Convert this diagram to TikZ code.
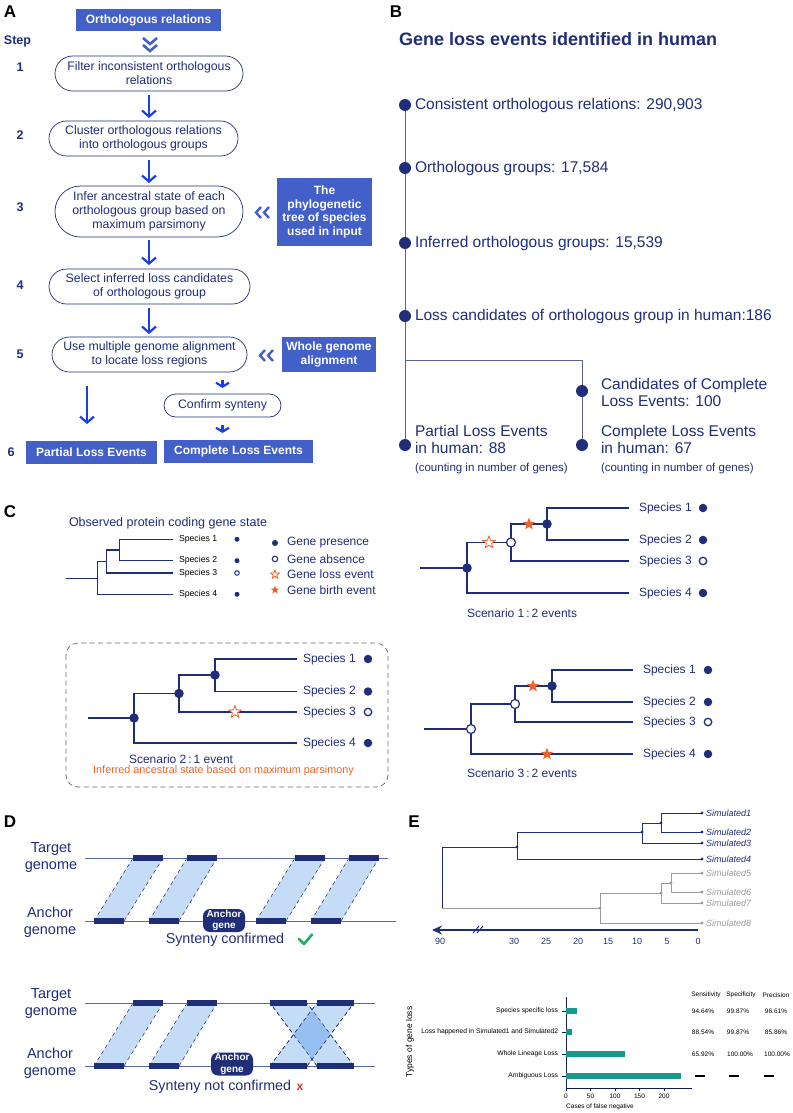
\documentclass[tikz,border=0pt]{standalone}
\usepackage{fontspec}
\setmainfont{Liberation Sans}
\usetikzlibrary{arrows.meta,shapes.geometric,shapes.misc}
\definecolor{navy}{RGB}{32,45,120}
\definecolor{boxblue}{RGB}{66,96,200}
\definecolor{arrowblue}{RGB}{28,62,226}
\definecolor{orangec}{RGB}{236,98,40}
\definecolor{tealc}{RGB}{22,152,140}
\definecolor{lightblu}{RGB}{196,220,246}
\definecolor{overblu}{RGB}{150,192,242}
\definecolor{grayc}{RGB}{155,155,155}
\definecolor{greenc}{RGB}{34,170,100}
\definecolor{redc}{RGB}{225,50,40}
\definecolor{lineblu}{RGB}{90,105,165}
\newcommand\fsz[2]{\fontsize{#1pt}{#2pt}\selectfont}
\newcommand\synpara[6]{%
  \fill[lightblu] (#1,#5) -- (#3,#6) -- (#4,#6) -- (#2,#5) -- cycle;
  \draw[syndash] (#1,#5) -- (#3,#6) (#2,#5) -- (#4,#6);}
\newcommand\gblock[3]{\fill[navy] (#1,#3-2.7) rectangle (#2,#3+2.7);}
\begin{document}
\begin{tikzpicture}[x=1pt,y=-1pt,
  every node/.style={inner sep=0pt, outer sep=0pt},
  plabel/.style={font=\fsz{17}{20}\bfseries, text=black},
  stepnum/.style={text=navy, font=\fsz{12.5}{15}\bfseries},
  bluebox/.style={fill=boxblue, text=white, font=\fsz{12}{13.5}\bfseries, align=center},
  pill/.style={rounded rectangle, draw=navy, line width=0.7pt, text=navy, align=center, font=\fsz{12.3}{14}},
  bigarrow/.style={draw=arrowblue, line width=2.2pt, -{Straight Barb[length=6pt,width=14pt]}},
  smallarrow/.style={draw=arrowblue, line width=2.2pt, -{Straight Barb[length=4pt,width=13pt]}},
  chev/.style={draw=boxblue, line width=2.6pt},
  btext/.style={anchor=west, text=navy, font=\fsz{15.5}{17.5}, align=left},
  bsmall/.style={anchor=west, text=navy, font=\fsz{11.5}{13}},
  bdot/.style={circle, fill=navy, minimum size=12pt},
  bline/.style={draw=navy!75, line width=0.9pt},
  tree/.style={draw=navy, line width=1.3pt},
  fnode/.style={circle, fill=navy, minimum size=9.5pt},
  onode/.style={circle, draw=navy, fill=white, line width=1.2pt, minimum size=9pt},
  ldot/.style={circle, fill=navy, minimum size=8.5pt},
  lodot/.style={circle, draw=navy, fill=white, line width=1.3pt, minimum size=7.5pt},
  sdot/.style={circle, fill=navy, minimum size=5pt},
  sodot/.style={circle, draw=navy, fill=white, line width=1pt, minimum size=4.5pt},
  fstar/.style={star, star points=5, star point ratio=2.4, fill=orangec, minimum size=13pt},
  ostar/.style={star, star points=5, star point ratio=2.4, draw=orangec, fill=white, line width=0.8pt, minimum size=13pt},
  splabel/.style={anchor=west, text=navy, font=\fsz{12}{14}},
  obslabel/.style={anchor=west, text=black, font=\fsz{8.7}{10}},
  ctext/.style={text=navy, font=\fsz{12}{14}},
  dlabel/.style={text=navy, font=\fsz{14.5}{17}, align=center},
  syndash/.style={draw=navy, line width=0.5pt, dash pattern=on 4pt off 3pt},
  gline/.style={draw=lineblu, line width=0.8pt},
  anchorpill/.style={rounded corners=7pt, fill=navy, text=white, font=\fsz{10}{11.5}\bfseries, align=center},
  etree/.style={draw=navy, line width=1pt},
  gtree/.style={draw=grayc, line width=1pt},
  edot/.style={circle, fill=navy, minimum size=3.2pt},
  gdot/.style={circle, fill=grayc, minimum size=3.2pt},
  simlab/.style={anchor=west, font=\fsz{9}{10}\itshape},
  ticklab/.style={text=navy, font=\fsz{9}{10}},
  chartlab/.style={anchor=east, text=black, font=\fsz{6.7}{8}},
  valtext/.style={text=black, font=\fsz{6.5}{8}},
  bar/.style={fill=tealc},
  axisl/.style={draw=navy!60!black, line width=0.6pt}
]
\useasboundingbox (0,0) rectangle (792,1113);

% ================= Panel A =================
\node[plabel] (labA) at (10,12) {A};
\node[bluebox, minimum width=145pt, minimum height=22pt] (orth) at (148.5,20) {Orthologous relations};
\draw[chev] (143,38) -- (150,44) -- (157,38) (143,45) -- (150,51) -- (157,45);
\node[stepnum] (stephd) at (17.5,41) {Step};
\node[stepnum] (s1) at (20,67) {1};
\node[stepnum] (s2) at (20,135) {2};
\node[stepnum] (s3) at (20,207) {3};
\node[stepnum] (s4) at (20,285) {4};
\node[stepnum] (s5) at (20,354) {5};
\node[stepnum] (s6) at (11,452) {6};

\node[pill, minimum width=188pt, minimum height=35pt] (box1) at (149,73.5) {Filter inconsistent orthologous\\relations};
\node[pill, minimum width=189pt, minimum height=35pt] (box2) at (143.5,138.5) {Cluster orthologous relations\\into orthologous groups};
\node[pill, minimum width=188pt, minimum height=51pt] (box3) at (149,211.5) {Infer ancestral state of each\\orthologous group based on\\maximum parsimony};
\node[pill, minimum width=201pt, minimum height=35pt] (box4) at (149.5,286.5) {Select inferred loss candidates\\of orthologous group};
\node[pill, minimum width=195pt, minimum height=35pt] (box5) at (149.5,354.5) {Use multiple genome alignment\\to locate loss regions};
\node[pill, minimum width=117pt, minimum height=23pt] (confirm) at (222.5,405.5) {Confirm synteny};

\node[bluebox, minimum width=95pt, minimum height=68pt] (side1) at (324.5,212) {The\\phylogenetic\\tree of species\\used in input};
\node[bluebox, minimum width=94pt, minimum height=35pt] (side2) at (329,354.5) {Whole genome\\alignment};
\node[bluebox, minimum width=131pt, minimum height=23pt] (partial) at (91.5,452.5) {Partial Loss Events};
\node[bluebox, minimum width=149pt, minimum height=23pt] (complete) at (238.5,451.5) {Complete Loss Events};

\draw[chev, line width=2.4pt] (261,207) -- (256,212.5) -- (261,218) (269,207) -- (264,212.5) -- (269,218);
\draw[chev, line width=2.4pt] (265,350) -- (260,355.5) -- (265,361) (273,350) -- (268,355.5) -- (273,361);

\draw[bigarrow, shorten <=4pt, shorten >=3pt] (box1.south) -- (box1.south |- box2.north);
\draw[bigarrow, shorten <=4pt, shorten >=3pt] (box3.north |- box2.south) -- (box3.north);
\draw[bigarrow, shorten <=3pt, shorten >=4pt] (box3.south) -- (box3.south |- box4.north);
\draw[bigarrow, shorten <=4pt, shorten >=3pt] (box4.south -| box3.south) -- (box3.south |- box5.north);
\draw[bigarrow, shorten <=14pt, shorten >=17pt] ([xshift=-4.5pt]partial.north |- box5.south) -- ([xshift=-4.5pt]partial.north);
\draw[smallarrow, shorten <=8pt, shorten >=6pt] (confirm.north |- box5.south) -- (confirm.north);
\draw[smallarrow, shorten <=8pt, shorten >=7pt] (confirm.south) -- (confirm.south |- complete.north);

% ================= Panel B =================
\node[plabel] (labB) at (396,12) {B};
\node[anchor=west, text=navy, font=\fsz{18}{20}\bfseries] (btitle) at (399,39) {Gene loss events identified in human};
\draw[bline] (405,105) -- (405,445);
\draw[bline] (405,360) -- (582,360) -- (582,445);
\node[bdot] (bd1) at (405,105) {};
\node[bdot] (bd2) at (405,168) {};
\node[bdot] (bd3) at (405,243) {};
\node[bdot] (bd4) at (405,316) {};
\node[bdot] (bd5) at (405,445) {};
\node[bdot] (bd6) at (582,391) {};
\node[bdot] (bd7) at (582,445) {};
\node[btext] (bt1) at (415,105) {Consistent orthologous relations: 290,903};
\node[btext] (bt2) at (415,168) {Orthologous groups: 17,584};
\node[btext] (bt3) at (415,243) {Inferred orthologous groups: 15,539};
\node[btext] (bt4) at (415,316) {Loss candidates of orthologous group in human:186};
\node[btext] (bt5) at (601,392.5) {Candidates of Complete\\Loss Events: 100};
\node[btext] (bt6) at (415,439.5) {Partial Loss Events\\in human: 88};
\node[btext] (bt7) at (601,439.5) {Complete Loss Events\\in human: 67};
\node[bsmall] (bt8) at (415,469) {(counting in number of genes)};
\node[bsmall] (bt9) at (601,469) {(counting in number of genes)};

% ================= Panel C =================
\node[plabel] (labC) at (10,512) {C};
\node[anchor=west, text=navy, font=\fsz{12.5}{14}] (obst) at (69,523) {Observed protein coding gene state};
\draw[tree, line width=1.2pt] (66,578.3) -- (97.3,578.3)
  (173,594.3) -| (97.3,561.3) -- (106.7,561.3)
  (173,573) -| (106.7,550) -- (119.3,550)
  (173,539.3) -| (119.3,560.7) -- (173,560.7);
\node[obslabel] (o1) at (179,539.3) {Species 1};
\node[obslabel] (o2) at (179,560.7) {Species 2};
\node[obslabel] (o3) at (179,573) {Species 3};
\node[obslabel] (o4) at (179,594.3) {Species 4};
\node[sdot] (od1) at (237,539.3) {};
\node[sdot] (od2) at (237,560.7) {};
\node[sodot] (od3) at (237,573) {};
\node[sdot] (od4) at (237,594.3) {};
\node[circle, fill=navy, minimum size=6pt] (lg1) at (275,543) {};
\node[circle, draw=navy, fill=white, line width=1.1pt, minimum size=5.5pt] (lg2) at (275,559) {};
\node[ostar, minimum size=9pt] (lg3) at (275,574.5) {};
\node[fstar, minimum size=9pt] (lg4) at (275,590) {};
\node[anchor=west, text=navy, font=\fsz{12}{14}] (lt1) at (287,543) {Gene presence};
\node[anchor=west, text=navy, font=\fsz{12}{14}] (lt2) at (287,559) {Gene absence};
\node[anchor=west, text=navy, font=\fsz{12}{14}] (lt3) at (287,574.5) {Gene loss event};
\node[anchor=west, text=navy, font=\fsz{12}{14}] (lt4) at (287,590) {Gene birth event};

% Scenario 1
\draw[tree] (420,568) -- (467,568)
  (629,593) -| (467,542.5) -- (511,542.5)
  (629,561) -| (511,524) -- (547,524)
  (629,508) -| (547,540) -- (629,540);
\node[fnode] (a1) at (547,524) {};
\node[onode] (a2) at (511,542.5) {};
\node[fnode] (a3) at (467,568) {};
\node[fstar] (a4) at (529,524) {};
\node[ostar] (a5) at (489,542.5) {};
\node[splabel] (a6) at (639,508) {Species 1};
\node[splabel] (a7) at (639,540) {Species 2};
\node[splabel] (a8) at (639,561) {Species 3};
\node[splabel] (a9) at (639,593) {Species 4};
\node[ldot] (a10) at (703,508) {};
\node[ldot] (a11) at (703,540) {};
\node[lodot] (a12) at (703,561) {};
\node[ldot] (a13) at (703,593) {};
\node[ctext, anchor=west] (a14) at (467,613) {Scenario 1\,:\,2 events};

% Scenario 2
\draw[draw=grayc!70!black, line width=0.8pt, dash pattern=on 5pt off 3.5pt, rounded corners=12pt] (66,643) rectangle (388,787);
\draw[tree] (88,718) -- (134,718)
  (297,743) -| (134,693.5) -- (179,693.5)
  (297,712) -| (179,675) -- (215,675)
  (297,659) -| (215,691.5) -- (297,691.5);
\node[fnode] (b1) at (215,675) {};
\node[fnode] (b2) at (179,693.5) {};
\node[fnode] (b3) at (134,718) {};
\node[ostar] (b4) at (235,712) {};
\node[splabel] (b6) at (303,659) {Species 1};
\node[splabel] (b7) at (303,691.5) {Species 2};
\node[splabel] (b8) at (303,712) {Species 3};
\node[splabel] (b9) at (303,743) {Species 4};
\node[ldot] (b10) at (368,659) {};
\node[ldot] (b11) at (368,691.5) {};
\node[lodot] (b12) at (368,712) {};
\node[ldot] (b13) at (368,743) {};
\node[ctext, anchor=west] (b14) at (129,759) {Scenario 2\,:\,1 event};
\node[text=orangec, font=\fsz{10.8}{12}] (b15) at (223.5,771) {Inferred ancestral state based on maximum parsimony};

% Scenario 3
\draw[tree] (424,729) -- (471,729)
  (633,754) -| (471,704) -- (515,704)
  (633,722) -| (515,686) -- (552,686)
  (633,670) -| (552,702) -- (633,702);
\node[fnode] (c1) at (552,686) {};
\node[onode] (c2) at (515,704) {};
\node[onode] (c3) at (471,729) {};
\node[fstar] (c4) at (533,686) {};
\node[fstar] (c5) at (547,754) {};
\node[splabel] (c6) at (643,670) {Species 1};
\node[splabel] (c7) at (643,702) {Species 2};
\node[splabel] (c8) at (643,722) {Species 3};
\node[splabel] (c9) at (643,754) {Species 4};
\node[ldot] (c10) at (708,670) {};
\node[ldot] (c11) at (708,702) {};
\node[lodot] (c12) at (708,722) {};
\node[ldot] (c13) at (708,754) {};
\node[ctext, anchor=west] (c14) at (467,773) {Scenario 3\,:\,2 events};

% ================= Panel D =================
\node[plabel] (labD) at (10,822) {D};
\node[dlabel] (dt1) at (51,857.5) {Target\\genome};
\node[dlabel] (da1) at (50,922.5) {Anchor\\genome};
\node[dlabel] (dt2) at (51,1003.5) {Target\\genome};
\node[dlabel] (da2) at (50,1063.5) {Anchor\\genome};
% top row
\synpara{94}{124}{133}{163}{921}{858}
\synpara{149}{179}{187}{217}{921}{858}
\synpara{256}{286}{295}{325}{921}{858}
\synpara{311}{341}{349}{379}{921}{858}
\draw[gline] (85,858) -- (388,858);
\draw[gline] (85,921) -- (396,921);
\gblock{133}{163}{858}\gblock{187}{217}{858}\gblock{295}{325}{858}\gblock{349}{379}{858}
\gblock{94}{124}{921}\gblock{149}{179}{921}\gblock{256}{286}{921}\gblock{311}{341}{921}
\node[anchorpill, minimum width=42pt, minimum height=23pt] (ag1) at (224,920.5) {Anchor\\gene};
\node[text=navy, font=\fsz{14.3}{16}] (syn1) at (225,940) {Synteny confirmed};
\draw[greenc, line width=2.6pt, line cap=round, line join=round] (299,939) -- (304,944) -- (312,934.5);
% bottom row
\synpara{94}{124}{133}{163}{1066}{1003}
\synpara{149}{179}{187}{217}{1066}{1003}
\synpara{317}{354}{270}{307}{1066}{1003}
\synpara{270}{307}{317}{354}{1066}{1003}
\begin{scope}
  \clip (270,1066) -- (317,1003) -- (354,1003) -- (307,1066) -- cycle;
  \fill[overblu] (317,1066) -- (270,1003) -- (307,1003) -- (354,1066) -- cycle;
\end{scope}
\draw[syndash] (270,1066) -- (317,1003) (307,1066) -- (354,1003) (317,1066) -- (270,1003) (354,1066) -- (307,1003);
\draw[gline] (85,1003) -- (375,1003);
\draw[gline] (85,1066) -- (375,1066);
\gblock{133}{163}{1003}\gblock{187}{217}{1003}\gblock{270}{307}{1003}\gblock{317}{354}{1003}
\gblock{94}{124}{1066}\gblock{149}{179}{1066}\gblock{270}{307}{1066}\gblock{317}{354}{1066}
\node[anchorpill, minimum width=42pt, minimum height=23pt] (ag2) at (232,1064) {Anchor\\gene};
\node[text=navy, font=\fsz{14.3}{16}] (syn2) at (220,1087) {Synteny not confirmed};
\node[text=redc, font=\fsz{12}{14}\bfseries] (redx) at (300,1087.5) {x};

% ================= Panel E =================
\node[plabel] (labE) at (414,822) {E};
\draw[etree] (702,813) -| (661,832) -- (702,832)
  (661,823) -- (642,823) (642,823) -- (642,843) -- (702,843)
  (642,832) -- (517,832) -- (517,859) -- (702,859)
  (517,847) -- (442,847) -- (442,908);
\draw[gtree] (702,873) -| (671,892) -- (702,892)
  (671,883) -- (661,883) -- (661,903) -- (702,903)
  (661,893) -- (600,893) -- (600,923) -- (702,923)
  (600,908) -- (442,908);
\node[edot] (e1) at (661,823) {};
\node[edot] (e2) at (642,832) {};
\node[edot] (e3) at (517,847) {};
\node[gdot] (e4) at (671,883) {};
\node[gdot] (e5) at (661,893) {};
\node[gdot] (e6) at (600,908) {};
\foreach \yy/\nm in {813/1,832/2,843/3,859/4}{
  \node[edot] (ed\nm) at (702,\yy) {};
  \node[simlab, text=navy] (el\nm) at (706,\yy) {Simulated\nm};
}
\foreach \yy/\nm in {873/5,892/6,903/7,923/8}{
  \node[gdot] (ed\nm) at (702,\yy) {};
  \node[simlab, text=grayc] (el\nm) at (706,\yy) {Simulated\nm};
}
\coordinate (axr) at (698,930);
\coordinate (axl) at (432,930);
\draw[navy, line width=1.3pt, -{Stealth[length=10pt,width=9pt]}] (axr) -- (axl);
\draw[navy, line width=0.9pt] (473,933) -- (479,926) (477,933) -- (483,926);
\foreach \xx/\lb in {440/90,514/30,546/25,578/20,608/15,637/10,667/5,698/0}{
  \node[ticklab] (tk\lb) at (\xx,941) {\lb};
}

% bar chart
\node[rotate=90, text=black, font=\fsz{8.5}{10}] (ylab) at (410,1042) {Types of gene loss};
\draw[axisl] (566,997) -- (566,1088) -- (692,1088);
\foreach \yy in {1011,1032,1054,1076}{ \draw[axisl] (562,\yy) -- (566,\yy); }
\foreach \xx/\lb in {566/0,590.5/50,615/100,639.5/150,664/200}{
  \draw[axisl] (\xx,1088) -- (\xx,1091);
  \node[valtext] (xt\lb) at (\xx,1096.5) {\lb};
}
\node[valtext] (xlab) at (600,1107) {Cases of false negative};
\fill[bar] (566,1008) rectangle (577,1014);
\fill[bar] (566,1029) rectangle (572,1035);
\fill[bar] (566,1051) rectangle (625,1057);
\fill[bar] (566,1073) rectangle (681,1079);
\node[chartlab] (cl1) at (558,1011) {Species specific loss};
\node[chartlab] (cl2) at (558,1032) {Loss happened in Simulated1 and Simulated2};
\node[chartlab] (cl3) at (558,1054) {Whole Lineage Loss};
\node[chartlab] (cl4) at (558,1076) {Ambiguous Loss};
\node[valtext] (h1) at (706,995) {Sensitivity};
\node[valtext] (h2) at (741,995) {Specificity};
\node[valtext] (h3) at (776,995) {Precision};
\node[valtext] (v11) at (703,1011) {94.64\%};
\node[valtext] (v12) at (738,1011) {99.87\%};
\node[valtext] (v13) at (776,1011) {96.61\%};
\node[valtext] (v21) at (703,1032) {88.54\%};
\node[valtext] (v22) at (738,1032) {99.87\%};
\node[valtext] (v23) at (776,1032) {85.86\%};
\node[valtext] (v31) at (703,1054) {65.92\%};
\node[valtext] (v32) at (740,1054) {100.00\%};
\node[valtext] (v33) at (777,1054) {100.00\%};
\draw[black, line width=1.4pt] (695,1076) -- (705,1076) (729,1076) -- (739,1076) (764,1076) -- (774,1076);
\end{tikzpicture}
\end{document}
